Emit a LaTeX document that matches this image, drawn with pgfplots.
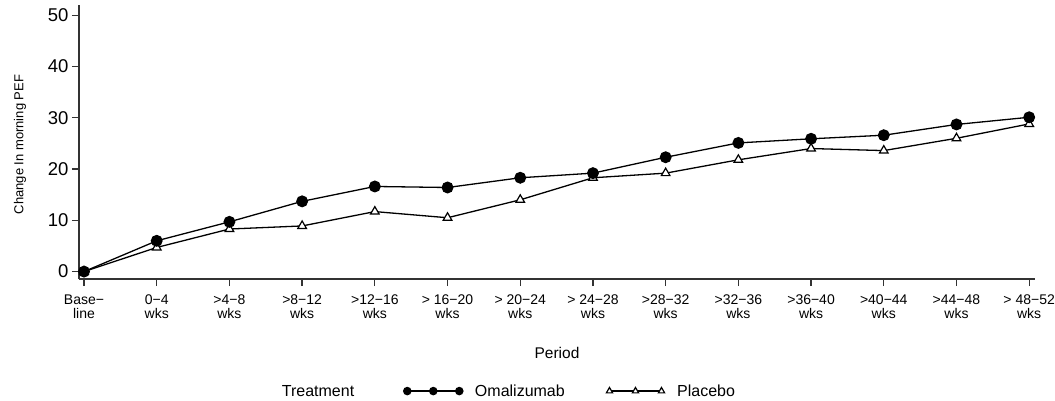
\documentclass[border=0pt]{standalone}
\usepackage{fontspec}
\setmainfont{Liberation Sans}
\usepackage{pgfplots}
\usepackage{pgfplotstable}
\pgfplotsset{compat=1.18}
\usetikzlibrary{calc}

\pgfplotstableread{
x om pl
0 0 0
1 6.0 4.7
2 9.7 8.3
3 13.7 8.9
4 16.6 11.7
5 16.4 10.5
6 18.3 14.0
7 19.2 18.3
8 22.3 19.2
9 25.1 21.8
10 25.9 24.0
11 26.6 23.6
12 28.7 26.0
13 30.1 28.8
}\datatable

\begin{document}
\begin{tikzpicture}
\begin{axis}[
  name=ax,
  scale only axis,
  width=956pt, height=274pt,
  xmin=-0.069, xmax=13.08,
  ymin=-1.45, ymax=52,
  axis x line*=bottom,
  axis y line*=left,
  axis line style={line width=1.3pt, black!80},
  tick style={line width=1.3pt, black!80},
  tick align=outside,
  major tick length=7pt,
  clip=false,
  xtick={0,...,13},
  xticklabels={{Base−\\line},{0−4\\wks},{>4−8\\wks},{>8−12\\wks},{>12−16\\wks},{> 16−20\\wks},{> 20−24\\wks},{> 24−28\\wks},{>28−32\\wks},{>32−36\\wks},{>36−40\\wks},{>40−44\\wks},{>44−48\\wks},{> 48−52\\wks}},
  xticklabel style={align=center, font=\fontsize{14}{14.5}\selectfont, yshift=-5pt},
  ytick={0,10,20,30,40,50},
  yticklabel style={font=\fontsize{18.5}{18.5}\selectfont},
  /pgf/number format/assume math mode=true,
  ylabel={Change In morning PEF},
  ylabel style={font=\fontsize{13}{13}\selectfont, at={(axis description cs:-0.0617,0.491)}, anchor=center},
  xlabel={Period},
  xlabel style={font=\fontsize{15.5}{15.5}\selectfont, at={(axis description cs:0.5,-0.27)}, anchor=center},
  legend columns=2,
  reverse legend,
  legend style={
    at={(axis description cs:0.339,-0.409)}, anchor=west,
    draw=none, fill=none, inner sep=0pt,
    font=\fontsize{16}{16}\selectfont,
    /tikz/every even column/.append style={column sep=38.7pt},
  },
  legend image code/.code={\path[draw=none,fill=none] (-4pt,-4pt) rectangle (65.7pt,4pt);\draw[mark repeat=1,mark phase=1,#1,mark size=3.6pt] plot coordinates {(0pt,0pt)(26pt,0pt)(52pt,0pt)};},
]
\addplot[black, line width=1.3pt, mark=triangle*, mark size=5pt, mark options={fill=white, line width=1.2pt}] table[x=x, y=pl] {\datatable};
\addlegendentry{Placebo}
\addplot[black, line width=1.3pt, mark=*, mark size=5.3pt, mark options={fill=black}] table[x=x, y=om] {\datatable};
\addlegendentry{Omalizumab}
\node[anchor=west, font=\fontsize{16}{16}\selectfont, inner sep=0pt] at (axis description cs:0.212,-0.409) {Treatment};
\end{axis}
\pgfresetboundingbox
\path ($(ax.south west)+(-79pt,-121pt)$) rectangle ($(ax.north east)+(20pt,5pt)$);
\end{tikzpicture}
\end{document}
